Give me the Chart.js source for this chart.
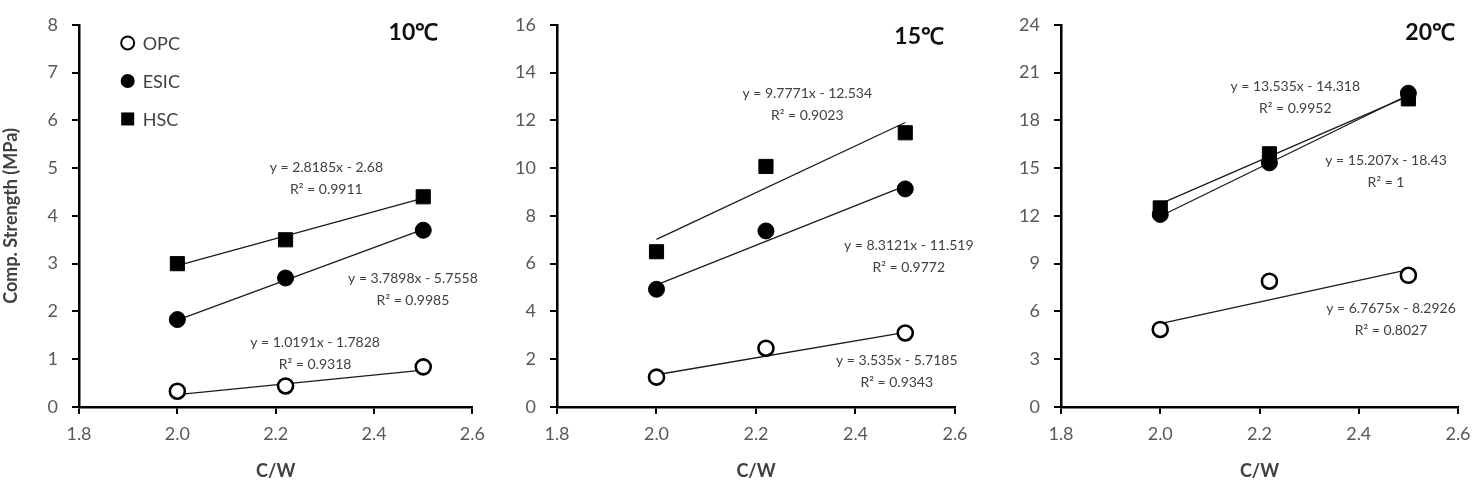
<!DOCTYPE html>
<html>
<head>
<meta charset="utf-8">
<script src="https://cdn.jsdelivr.net/npm/chart.js@4/dist/chart.umd.min.js"></script>
<style>
  body { margin: 0; background: #fff; }
  .panel { position: absolute; top: 0; width: 494px; height: 486px; }
</style>
</head>
<body>
<div class="panel" style="left:0"><canvas id="c10" width="494" height="486"></canvas></div>
<div class="panel" style="left:494px"><canvas id="c15" width="494" height="486"></canvas></div>
<div class="panel" style="left:988px"><canvas id="c20" width="494" height="486"></canvas></div>
<script>
// C/W ratios
const cw = [2.0, 2.22, 2.5]
const seriesNames = ['OPC', 'ESIC', 'HSC']
const xTicks = [1.8, 2.0, 2.2, 2.4, 2.6]

// compressive strength (MPa)
const opc10 = [0.33, 0.44, 0.84]
const esic10 = [1.83, 2.7, 3.7]
const hsc10 = [3.0, 3.5, 4.4]

const opc15 = [1.25, 2.46, 3.1]
const esic15 = [4.93, 7.37, 9.13]
const hsc15 = [6.5, 10.07, 11.48]

const opc20 = [4.87, 7.9, 8.27]
const esic20 = [12.09, 15.33, 19.7]
const hsc20 = [12.5, 15.9, 19.35]

// linear trend lines: start (C/W 2.0) and end (C/W 2.5), order OPC, ESIC, HSC
const trendX = [2.0, 2.5]
const trendStart10 = [0.26, 1.82, 2.96]
const trendEnd10 = [0.77, 3.72, 4.37]
const trendStart15 = [1.35, 5.11, 7.02]
const trendEnd15 = [3.12, 9.26, 11.91]
const trendStart20 = [5.24, 11.98, 12.75]
const trendEnd20 = [8.63, 19.59, 19.52]

// trend equations shown on the charts (OPC, ESIC, HSC)
const eq10 = ['y = 1.0191x - 1.7828', 'y = 3.7898x - 5.7558', 'y = 2.8185x - 2.68']
const r2_10 = ['R² = 0.9318', 'R² = 0.9985', 'R² = 0.9911']
const eq15 = ['y = 3.535x - 5.7185', 'y = 8.3121x - 11.519', 'y = 9.7771x - 12.534']
const r2_15 = ['R² = 0.9343', 'R² = 0.9772', 'R² = 0.9023']
const eq20 = ['y = 6.7675x - 8.2926', 'y = 15.207x - 18.43', 'y = 13.535x - 14.318']
const r2_20 = ['R² = 0.8027', 'R² = 1', 'R² = 0.9952']

const FONT = 'Lato, "Open Sans", sans-serif'

const markerStyles = [
    { pointStyle: 'circle', pointRadius: 7.5, pointBackgroundColor: '#fff', pointBorderColor: '#000', pointBorderWidth: 2.6 },
    { pointStyle: 'circle', pointRadius: 8, pointBackgroundColor: '#000', pointBorderColor: '#000', pointBorderWidth: 1 },
    { pointStyle: 'rect', pointRadius: 10, pointBackgroundColor: '#000', pointBorderColor: '#000', pointBorderWidth: 1 }
]

// text placed in data coordinates
const textPlugin = {
    id: 'texts',
    afterDatasetsDraw(chart, args, opts) {
        const ctx = chart.ctx
        const xs = chart.scales.x, ys = chart.scales.y
        ctx.save()
        ctx.textAlign = 'center'
        ctx.textBaseline = 'middle'
        opts.eqs.forEach(e => {
            ctx.font = '14px ' + FONT
            ctx.fillStyle = '#404040'
            const px = xs.getPixelForValue(e.x)
            ctx.fillText(e.eq, px, ys.getPixelForValue(e.y))
            ctx.fillText(e.r2, px, ys.getPixelForValue(e.y) + 22)
        })
        ctx.font = 'bold 23px ' + FONT
        ctx.fillStyle = '#111'
        ctx.fillText(opts.title.text, xs.getPixelForValue(opts.title.x), ys.getPixelForValue(opts.title.y))

        if (opts.legend) {
            const lg = opts.legend
            const lx = xs.getPixelForValue(lg.x)
            seriesNames.forEach((name, i) => {
                const ly = ys.getPixelForValue(lg.y) + i * 38
                ctx.fillStyle = '#000'
                ctx.strokeStyle = '#000'
                if (i == 0) {
                    ctx.lineWidth = 2
                    ctx.beginPath(); ctx.arc(lx, ly, 6.5, 0, Math.PI * 2)
                    ctx.fillStyle = '#fff'; ctx.fill(); ctx.stroke()
                } else if (i == 1) {
                    ctx.beginPath(); ctx.arc(lx, ly, 7, 0, Math.PI * 2); ctx.fill()
                } else {
                    ctx.fillRect(lx - 6.5, ly - 6.5, 13, 13)
                }
                ctx.fillStyle = '#404040'
                ctx.font = '18px ' + FONT
                ctx.textAlign = 'left'
                ctx.fillText(name, lx + 15, ly + 1)
                ctx.textAlign = 'center'
            })
        }
        ctx.restore()
    }
}

function makePanel(id, opc, esic, hsc, tStart, tEnd, yMax, yStep, eqs, r2s, textPos, titleText, panel) {
    const values = [opc, esic, hsc]
    const datasets = []
    values.forEach((vals, i) => {
        datasets.push(Object.assign({
            label: seriesNames[i],
            data: cw.map((x, j) => ({ x: x, y: vals[j] })),
            showLine: false,
            order: 1
        }, markerStyles[i]))
    })
    values.forEach((vals, i) => {
        datasets.push({
            label: seriesNames[i] + ' trend',
            data: [{ x: trendX[0], y: tStart[i] }, { x: trendX[1], y: tEnd[i] }],
            showLine: true,
            borderColor: '#1a1a1a',
            borderWidth: 1.3,
            pointRadius: 0,
            order: 2
        })
    })

    new Chart(document.querySelector(id), {
        type: 'scatter',
        data: { datasets: datasets },
        options: {
            responsive: false,
            animation: false,
            events: [],
            layout: { padding: { left: 0, right: panel.padRight, top: 24, bottom: 0 } },
            plugins: {
                legend: { display: false },
                tooltip: { enabled: false },
                texts: {
                    eqs: eqs.map((e, i) => ({ eq: e, r2: r2s[i], x: textPos[i][0], y: textPos[i][1] })),
                    title: { text: titleText, x: panel.titleX, y: panel.titleY },
                    legend: panel.legend
                }
            },
            scales: {
                x: {
                    type: 'linear', min: 1.8, max: 2.6,
                    afterBuildTicks: s => { s.ticks = xTicks.map(v => ({ value: v })) },
                    afterFit: s => { s.height = 79 },
                    ticks: { color: '#595959', font: { family: FONT, size: 18 }, padding: 9, callback: v => v.toFixed(1) },
                    grid: { drawOnChartArea: false, tickLength: 7, color: '#000', lineWidth: 2 },
                    border: { color: '#000', width: 2.5 },
                    title: { display: true, text: 'C/W', color: '#404040', font: { family: FONT, size: 18, weight: 'bold' }, padding: { top: 0, bottom: 4 } }
                },
                y: {
                    min: 0, max: yMax,
                    afterFit: s => { s.width = panel.yWidth },
                    ticks: { stepSize: yStep, color: '#595959', font: { family: FONT, size: 18 }, padding: 14 },
                    grid: { drawOnChartArea: false, tickLength: 7, color: '#000', lineWidth: 2 },
                    border: { color: '#000', width: 2.5 },
                    title: { display: panel.yTitle, text: 'Comp. Strength (MPa)', color: '#404040', font: { family: FONT, size: 18, weight: 'bold' }, padding: { top: 0, bottom: 0 } }
                }
            }
        },
        plugins: [textPlugin]
    })
}

makePanel('#c10', opc10, esic10, hsc10, trendStart10, trendEnd10, 8, 1, eq10, r2_10,
    [[2.28, 1.36], [2.479, 2.69], [2.303, 5.01]], '10℃',
    { padRight: 19, yWidth: 79, yTitle: true, titleX: 2.48, titleY: 7.83, legend: { x: 1.899, y: 7.62 } })

makePanel('#c15', opc15, esic15, hsc15, trendStart15, trendEnd15, 16, 2, eq15, r2_15,
    [[2.483, 1.96], [2.507, 6.77], [2.303, 13.12]], '15℃',
    { padRight: 33, yWidth: 63, yTitle: false, titleX: 2.528, titleY: 15.5 })

makePanel('#c20', opc20, esic20, hsc20, trendStart20, trendEnd20, 24, 3, eq20, r2_20,
    [[2.465, 6.2], [2.455, 15.48], [2.272, 20.1]], '20℃',
    { padRight: 24, yWidth: 73, yTitle: false, titleX: 2.544, titleY: 23.5 })
</script>
</body>
</html>
